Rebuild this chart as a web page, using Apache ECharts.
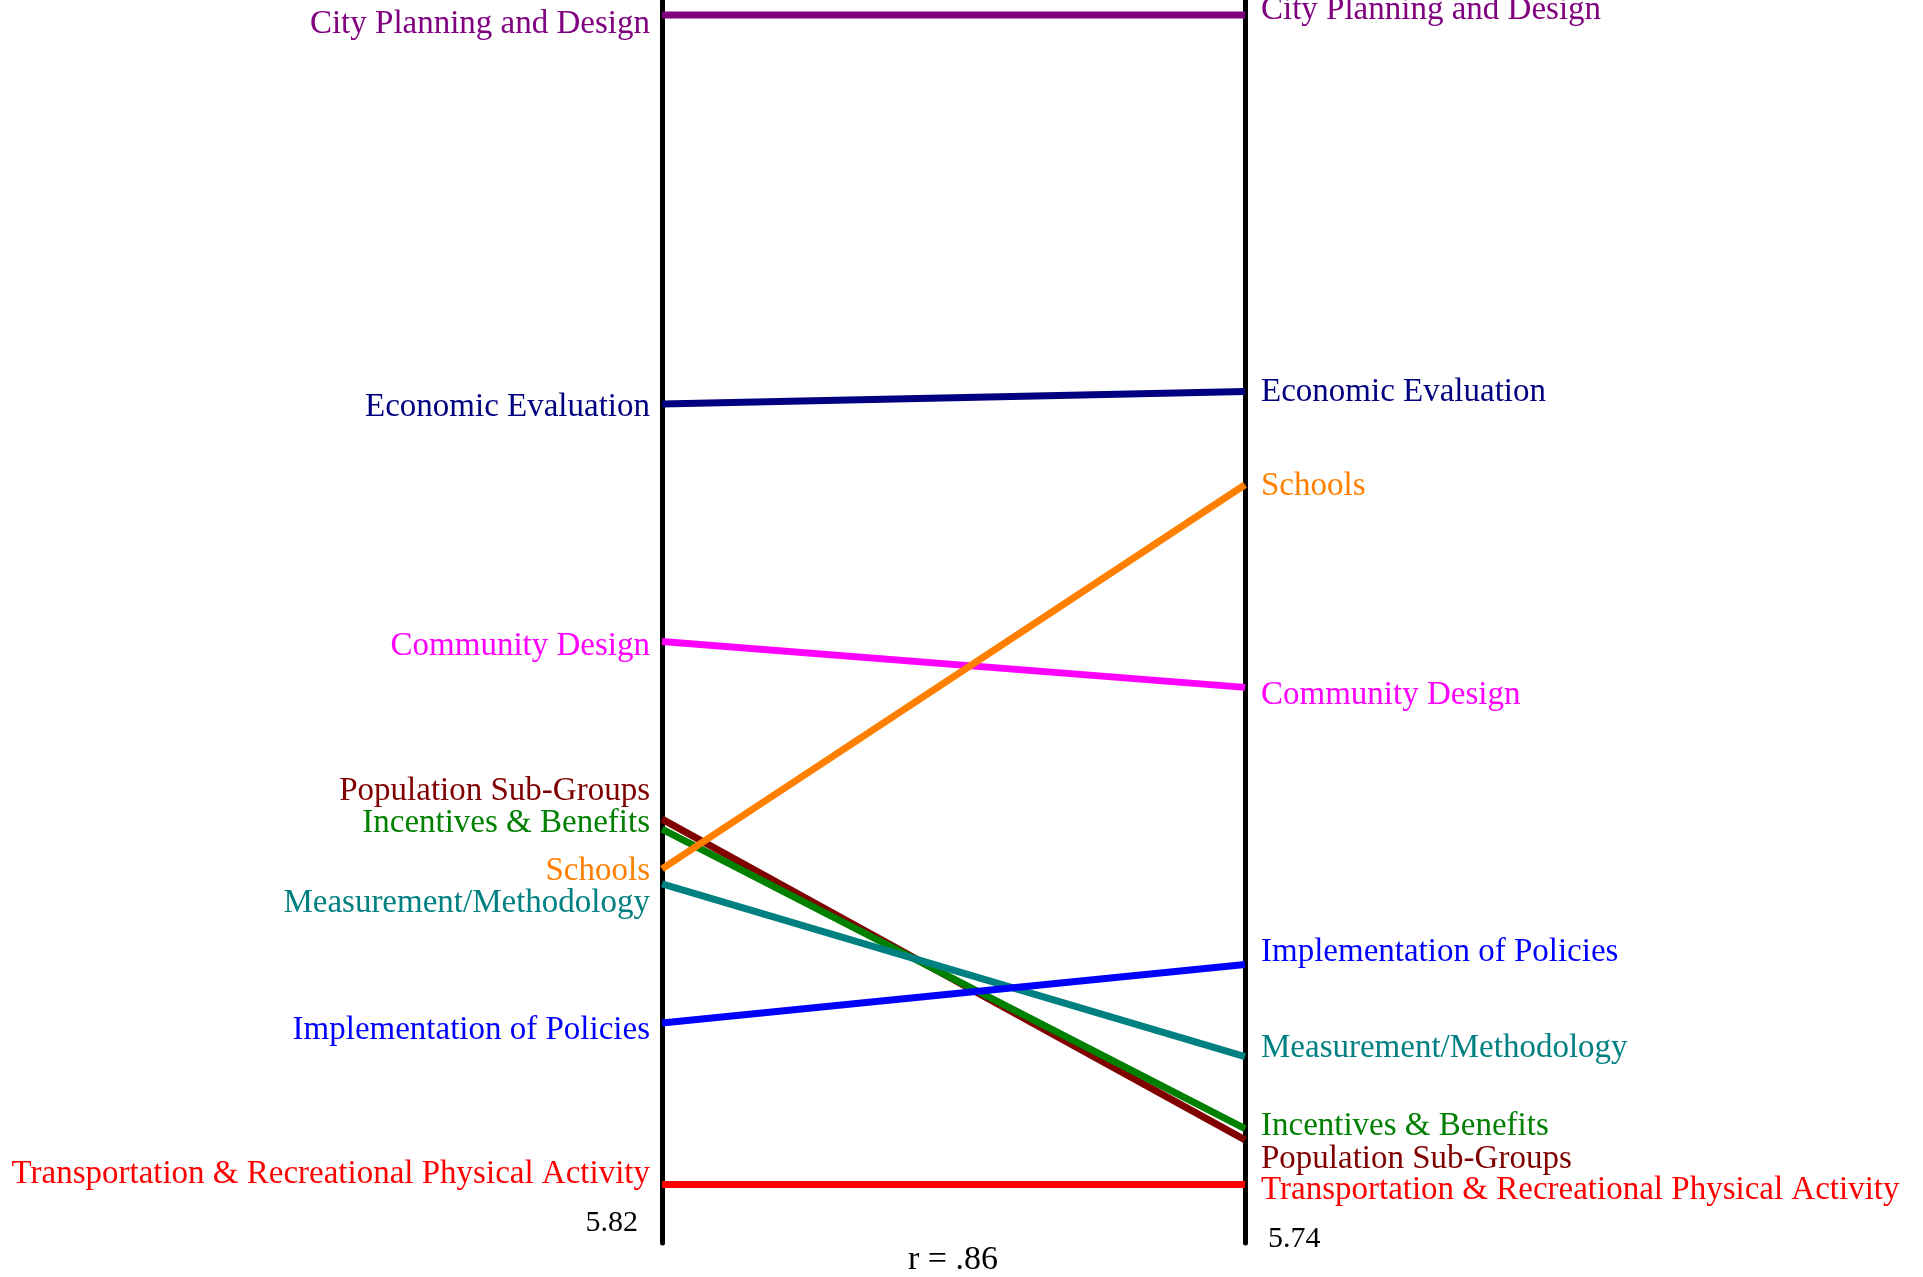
<!DOCTYPE html>
<html>
<head>
<meta charset="utf-8">
<script src="https://cdn.jsdelivr.net/npm/echarts@6/dist/echarts.min.js"></script>
<style>
  html, body { margin: 0; padding: 0; background: #fff; }
  #main { width: 1923px; height: 1277px; }
</style>
</head>
<body>
<div id="main"></div>
<script>
var chartDom = document.getElementById('main');
var myChart = echarts.init(chartDom);

// two columns of the slope chart
var sides = ['left', 'right'];

// topics (top to bottom on the left side)
var topics = [
    'City Planning and Design',
    'Economic Evaluation',
    'Community Design',
    'Population Sub-Groups',
    'Incentives & Benefits',
    'Schools',
    'Measurement/Methodology',
    'Implementation of Policies',
    'Transportation & Recreational Physical Activity'
];

// relative position on each scale (0 = bottom, 100 = top)
var leftValues  = [98.8, 67.5, 48.4, 34.1, 33.3, 30.1, 28.9, 17.7, 4.7];
var rightValues = [98.8, 68.5, 44.7, 8.3, 9.2, 61.0, 15.0, 22.4, 4.7];

var topicColors = ['#800080', '#000080', '#ff00ff', '#800000', '#008000',
                   '#ff8000', '#008080', '#0000ff', '#ff0000'];

var leftMinLabel = '5.82';
var rightMinLabel = '5.74';
var corrText = 'r = .86';

// label nudges (same order as topics) so stacked names don't collide
var leftNudge  = [9, 3, 5, -28, -6, 2, 20, 7, -10];
var rightNudge = [-5, 1, 8, 19, -2, 2, -8, -12, 6];

var font = 'Liberation Serif';
var fontSize = 33;

var series = topics.map(function (name, i) {
    function pointLabel(pos, dist, dy) {
        return {
            show: true, position: pos, distance: dist,
            offset: [0, dy],
            formatter: name,
            color: topicColors[i], fontFamily: font, fontSize: fontSize
        };
    }
    return {
        name: name,
        type: 'line',
        symbol: 'circle',
        symbolSize: 0,
        showSymbol: true,
        lineStyle: { color: topicColors[i], width: 7 },
        itemStyle: { color: topicColors[i] },
        z: 3,
        silent: true,
        data: [
            { value: leftValues[i], label: pointLabel('left', 12, leftNudge[i]) },
            { value: rightValues[i], label: pointLabel('right', 16, rightNudge[i]) }
        ]
    };
});

var option = {
    animation: false,
    backgroundColor: '#fff',
    grid: { left: 662, right: 678, top: 0, bottom: 34 },
    xAxis: {
        type: 'category',
        data: sides,
        boundaryGap: false,
        show: false
    },
    yAxis: [
        {
            type: 'value', min: 0, max: 100, position: 'left',
            axisLine: { show: true, lineStyle: { color: '#000', width: 5 } },
            axisTick: { show: false }, axisLabel: { show: false },
            splitLine: { show: false }
        },
        {
            type: 'value', min: 0, max: 100, position: 'right',
            axisLine: { show: true, lineStyle: { color: '#000', width: 5 } },
            axisTick: { show: false }, axisLabel: { show: false },
            splitLine: { show: false }
        }
    ],
    graphic: [
        {
            type: 'text', right: 1923 - 638, top: 1208,
            style: { text: leftMinLabel, fill: '#000', font: '30px ' + font }
        },
        {
            type: 'text', left: 1268, top: 1224,
            style: { text: rightMinLabel, fill: '#000', font: '30px ' + font }
        },
        {
            type: 'text', left: 908, top: 1243,
            style: { text: corrText, fill: '#000', font: '34px ' + font }
        }
    ],
    series: series
};

option && myChart.setOption(option);
</script>
</body>
</html>
